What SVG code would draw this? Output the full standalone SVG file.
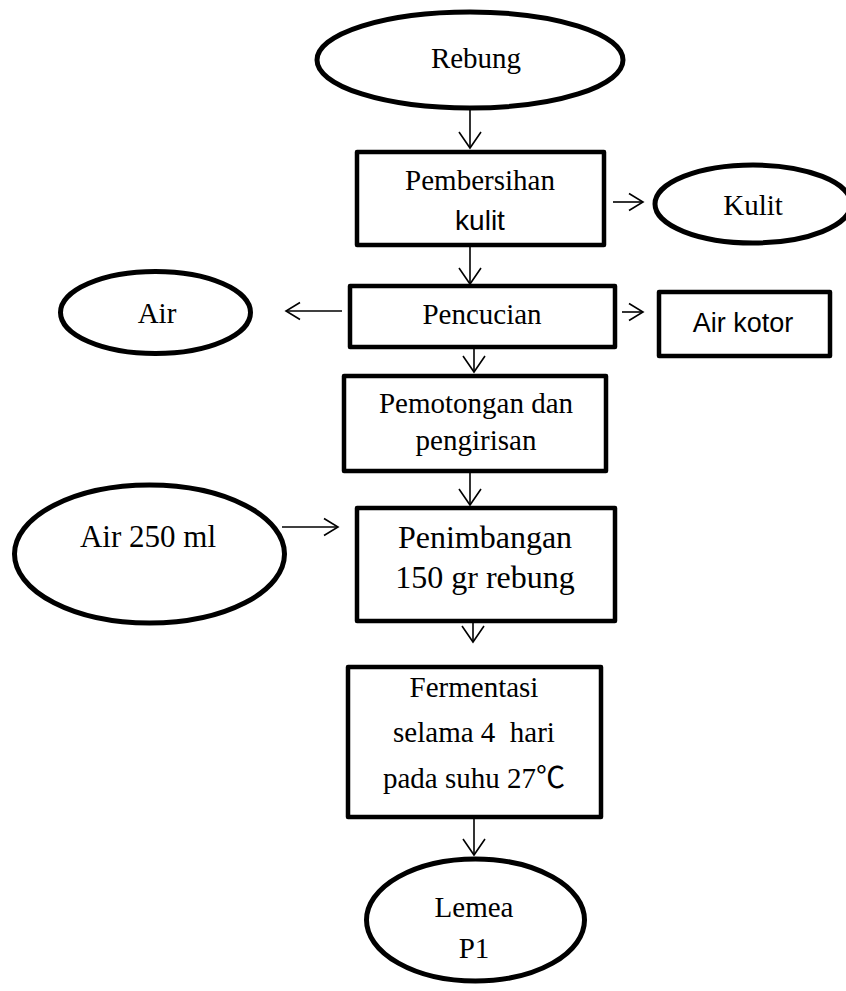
<svg xmlns="http://www.w3.org/2000/svg" width="846" height="991" viewBox="0 0 846 991">
<style>
.box{fill:#fff;stroke:#000;stroke-width:4.5;stroke-linejoin:round}
.ell{fill:#fff;stroke:#000;stroke-width:5}
.t{font-family:"Liberation Serif","Noto Sans CJK SC",serif;font-size:29px;fill:#000;text-anchor:middle;white-space:pre}
.s{font-family:"Liberation Sans","Noto Sans CJK SC",sans-serif;font-size:27px;fill:#000;text-anchor:middle}
.c{fill:none;stroke:#000;stroke-width:1.6}
</style>
<defs>
<marker id="av" markerUnits="userSpaceOnUse" markerWidth="30" markerHeight="30" refX="0" refY="0" viewBox="-20 -15 25 30" orient="auto" overflow="visible">
<path d="M-16,-11 L0,0 L-16,11" fill="none" stroke="#000" stroke-width="1.6"/>
</marker>
<marker id="ah" markerUnits="userSpaceOnUse" markerWidth="30" markerHeight="30" refX="0" refY="0" viewBox="-20 -15 25 30" orient="auto" overflow="visible">
<path d="M-14,-8.5 L0,0 L-14,8.5" fill="none" stroke="#000" stroke-width="1.6"/>
</marker>
</defs>
<g id="connectors">
<line class="c" x1="470" y1="110" x2="470" y2="148" marker-end="url(#av)"/>
<line class="c" x1="613" y1="202" x2="643" y2="202" marker-end="url(#ah)"/>
<line class="c" x1="470" y1="247" x2="470" y2="284" marker-end="url(#av)"/>
<line class="c" x1="342" y1="311" x2="286" y2="311" marker-end="url(#ah)"/>
<line class="c" x1="622" y1="312" x2="643" y2="312" marker-end="url(#ah)"/>
<line class="c" x1="474" y1="338" x2="474" y2="372" marker-end="url(#av)"/>
<line class="c" x1="470" y1="473" x2="470" y2="505" marker-end="url(#av)"/>
<line class="c" x1="282" y1="527" x2="338" y2="527" marker-end="url(#ah)"/>
<line class="c" x1="473" y1="620" x2="473" y2="642" marker-end="url(#av)"/>
<line class="c" x1="474" y1="819" x2="474" y2="855" marker-end="url(#av)"/>
</g>
<g id="rebung">
<ellipse class="ell" cx="470" cy="60" rx="153" ry="48"/>
<text class="t" x="476" y="68">Rebung</text>
</g>
<g id="pembersihan">
<rect class="box" x="357" y="152" width="247" height="93"/>
<text class="t" x="480" y="190">Pembersihan</text>
<text class="s" x="480" y="230" style="font-size:28px">kulit</text>
</g>
<g id="kulit">
<ellipse class="ell" cx="753" cy="204" rx="98" ry="39"/>
<text class="t" x="753" y="215">Kulit</text>
</g>
<g id="air">
<ellipse class="ell" cx="155.5" cy="312.5" rx="95" ry="41"/>
<text class="t" x="157" y="323">Air</text>
</g>
<g id="pencucian">
<rect class="box" x="350" y="286" width="265" height="61"/>
<text class="t" x="482" y="324">Pencucian</text>
</g>
<g id="air-kotor">
<rect class="box" x="659" y="292" width="171" height="64"/>
<text class="s" x="743" y="332">Air kotor</text>
</g>
<g id="pemotongan">
<rect class="box" x="344" y="376" width="262" height="95"/>
<text class="t" x="476" y="413">Pemotongan dan</text>
<text class="t" x="476" y="450">pengirisan</text>
</g>
<g id="air-250">
<ellipse class="ell" cx="149.5" cy="554" rx="135" ry="69"/>
<text class="t" x="148" y="547" style="font-size:31px">Air 250 ml</text>
</g>
<g id="penimbangan">
<rect class="box" x="357" y="508" width="258" height="113"/>
<text class="t" x="485" y="548" style="font-size:32px">Penimbangan</text>
<text class="t" x="485" y="588" style="font-size:32px">150 gr rebung</text>
</g>
<g id="fermentasi">
<rect class="box" x="348" y="667" width="253" height="150"/>
<text class="t" x="474" y="697">Fermentasi</text>
<text class="t" x="474" y="742">selama 4  hari</text>
<text class="t" x="474" y="788">pada suhu 27℃</text>
</g>
<g id="lemea">
<ellipse class="ell" cx="475.5" cy="920" rx="109" ry="61"/>
<text class="t" x="474" y="917">Lemea</text>
<text class="t" x="474" y="958">P1</text>
</g>
</svg>
